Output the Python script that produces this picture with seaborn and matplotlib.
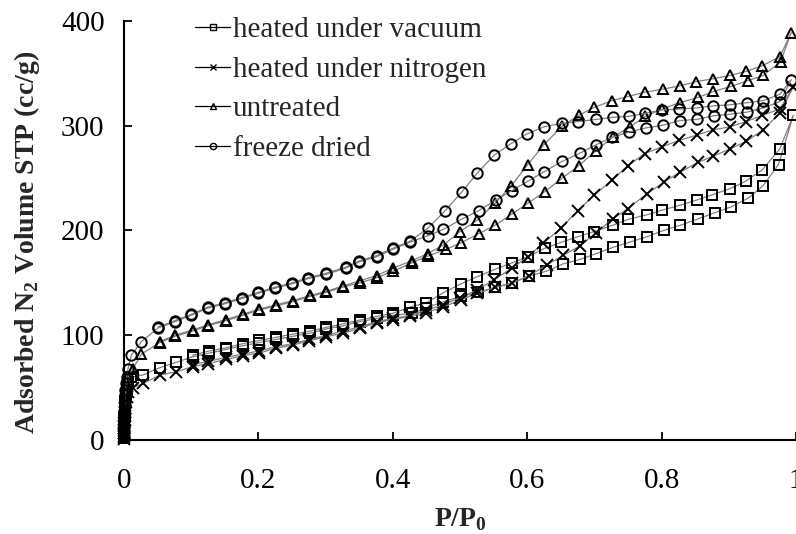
import numpy as np
import pandas as pd
import matplotlib
matplotlib.use("Agg")
import matplotlib.pyplot as plt
import seaborn as sns

# ---------------- data ----------------
labels = ["heated under vacuum", "heated under nitrogen", "untreated", "freeze dried"]
markers = ["s", "x", "^", "o"]

vac_ads_x = [0.0001,0.0002,0.0003,0.0004,0.0005,0.0007,0.0009,0.0012,0.0016,0.002,0.003,0.004,0.006,0.011,0.028,0.053,0.077,0.102,0.127,0.152,0.177,0.201,0.226,0.251,0.277,0.301,0.326,0.351,0.376,0.40,0.428,0.45,0.475,0.502,0.527,0.552,0.578,0.603,0.628,0.653,0.679,0.703,0.728,0.753,0.778,0.803,0.828,0.854,0.879,0.904,0.929,0.951,0.974,0.996]
vac_ads_y = [2,5,9,13,17,21,25,29,33,37,42,48,55,60,62,69,74,79.5,83,86.5,90,93,96,99,102,106,109,113,116,119,121,126,132,137,141,145.6,150,156.5,161,168,172.5,178,184,189,194,200,205,211,217,222.7,231,242.7,263,310]
vac_des_x = [0.976,0.95,0.925,0.902,0.875,0.852,0.827,0.801,0.778,0.75,0.727,0.70,0.675,0.65,0.626,0.601,0.577,0.552,0.526,0.501,0.475,0.45,0.426,0.40,0.376,0.351,0.326,0.301,0.277,0.251,0.226,0.201,0.177,0.152,0.127,0.102]
vac_des_y = [278,258,247,240,234,229,224,219.5,215,210.6,205,199,194,188.6,183,175,169,163,156,149,140.5,131,127,121,118,114.5,111,107.5,104,101,98,95,92,88,85,81]

nit_ads_x = [0.0001,0.0002,0.0003,0.0004,0.0005,0.0007,0.0009,0.0012,0.0016,0.002,0.003,0.004,0.006,0.013,0.029,0.053,0.077,0.102,0.125,0.152,0.177,0.201,0.226,0.251,0.276,0.301,0.326,0.351,0.376,0.40,0.426,0.45,0.475,0.502,0.525,0.552,0.578,0.603,0.629,0.654,0.678,0.703,0.727,0.75,0.778,0.803,0.827,0.854,0.877,0.902,0.926,0.951,0.976,0.996]
nit_ads_y = [1,4,7,10,13,16,19,23,27,31,36,41,46,50,54,62,65,70,73,77,80.5,83,87.5,90.6,94.8,98.6,102,106.5,112,115,118,121.7,127,134,140,145.6,150,157,167,176.5,185,198,211,221,235,246,255.6,265,271,278,285,296,312,337]
nit_des_x = [0.976,0.95,0.926,0.902,0.876,0.852,0.826,0.801,0.775,0.75,0.726,0.70,0.675,0.65,0.624,0.601,0.577,0.55,0.525,0.50,0.475,0.45,0.426,0.40,0.376,0.351,0.326,0.301,0.276,0.251,0.226,0.201,0.177,0.152,0.125,0.102]
nit_des_y = [316,310,304,299,296,291,286,280,273.5,262,248,234,219,202,188,175,164,152.6,143,136,129,124,119,116,113,108,104,100,96,92,89,85,82,79,75,72]

unt_ads_x = [0.0001,0.0002,0.0003,0.0004,0.0005,0.0007,0.0009,0.0012,0.0016,0.002,0.003,0.004,0.006,0.013,0.026,0.053,0.076,0.102,0.125,0.152,0.177,0.201,0.226,0.251,0.277,0.301,0.326,0.351,0.376,0.40,0.428,0.452,0.479,0.501,0.528,0.552,0.577,0.601,0.626,0.652,0.677,0.702,0.727,0.753,0.776,0.801,0.827,0.854,0.877,0.903,0.928,0.951,0.977,0.993]
unt_ads_y = [3,7,11,15,19,23,27,31,36,41,47,53,60,68,82,93,99,104,109,114,119,124,128,132,137,141,146,150,155,161,169,175.6,182,188,197,205,215.6,226,237,250,262,276,289,299,309,316,322,327,332.7,337.5,343,348,361,389]
unt_des_x = [0.976,0.949,0.926,0.902,0.877,0.851,0.827,0.802,0.775,0.75,0.726,0.70,0.677,0.652,0.625,0.601,0.576,0.552,0.526,0.50,0.475,0.452,0.428,0.40,0.376,0.351,0.326,0.301,0.277,0.251,0.226,0.201,0.177,0.152,0.125,0.102,0.076,0.053]
unt_des_y = [366,357,352,348,345,342,338,335,332,328,324,317.6,310,299.6,282,263,242.5,226,210,199,186,178,171,164,157,152,147,142,138,133,129,125,120,115,110,105,100,94]

frz_ads_x = [0.0001,0.0002,0.0003,0.0004,0.0005,0.0007,0.0009,0.0012,0.0016,0.002,0.003,0.004,0.006,0.011,0.026,0.051,0.076,0.10,0.125,0.15,0.175,0.2,0.225,0.25,0.274,0.30,0.33,0.35,0.376,0.40,0.426,0.452,0.475,0.503,0.528,0.553,0.577,0.601,0.625,0.652,0.679,0.703,0.726,0.752,0.777,0.802,0.827,0.852,0.878,0.902,0.927,0.951,0.976,0.993]
frz_ads_y = [3,8,13,18,23,28,33,38,43,48,54,60,68,81,94,107,113,119,126,130,135,140,145,149,154,158,164,170,175,182,189,195,201,211,219,229,238,247,256,266,274,282,289,294,298,300.5,305,306,309.6,311,313,317,323,344]
frz_des_x = [0.976,0.951,0.927,0.902,0.877,0.852,0.826,0.801,0.776,0.752,0.727,0.702,0.676,0.652,0.625,0.599,0.576,0.551,0.526,0.503,0.478,0.452,0.426,0.40,0.376,0.35,0.33,0.30,0.274,0.25,0.225,0.2,0.175,0.15,0.125,0.10,0.076,0.051]
frz_des_y = [330,324,322,320,319,317,316,315,312,309,308,306,304,302.5,299,292,283,272,255,237,219,202,190,183,176,171,165,159,155,150,146,141,136,131,127,120,114,108]

xticks = [0, 0.2, 0.4, 0.6, 0.8, 1]
xticklabels = ["0", "0.2", "0.4", "0.6", "0.8", "1"]
yticks = [0, 100, 200, 300, 400]

series = [
    (vac_ads_x + vac_des_x, vac_ads_y + vac_des_y),
    (nit_ads_x + nit_des_x, nit_ads_y + nit_des_y),
    (unt_ads_x + unt_des_x, unt_ads_y + unt_des_y),
    (frz_ads_x + frz_des_x, frz_ads_y + frz_des_y),
]

# ---------------- style ----------------
sns.set_style("ticks")
plt.rcParams["font.family"] = ["Liberation Serif", "DejaVu Serif"]
plt.rcParams["mathtext.fontset"] = "custom"
plt.rcParams["mathtext.rm"] = "Liberation Serif"
plt.rcParams["mathtext.bf"] = "Liberation Serif:bold"
plt.rcParams["xtick.direction"] = "in"
plt.rcParams["ytick.direction"] = "in"

fig = plt.figure(figsize=(7.96, 5.34), dpi=100)
ax = fig.add_axes([124/796, (534-440)/534, (796-124)/796, (440-21)/534])

for (xs, ys), lab, m in zip(series, labels, markers):
    df = pd.DataFrame({"P": xs, "V": ys})
    sns.lineplot(data=df, x="P", y="V", sort=False, estimator=None, ax=ax,
                 color="#808080", linewidth=0.9, marker=m, markersize=7.5 if m != "x" else 8,
                 markerfacecolor="none", markeredgecolor="black", markeredgewidth=1.4,
                 label=lab, clip_on=False)

ax.set_xlim(0, 1)
ax.set_ylim(0, 400)
ax.set_xticks(xticks)
ax.set_xticklabels(xticklabels)
ax.set_yticks(yticks)
ax.tick_params(axis="both", labelsize=21, length=6, width=1.3, colors="black")
ax.tick_params(axis="x", pad=20)
ax.tick_params(axis="y", pad=14)
for s in ["top", "right"]:
    ax.spines[s].set_visible(False)
for s in ["left", "bottom"]:
    ax.spines[s].set_linewidth(1.5)
    ax.spines[s].set_color("black")

ax.set_xlabel(r"P/P$_\mathbf{0}$", fontsize=20, fontweight="bold")
ax.set_ylabel(r"Adsorbed N$_\mathbf{2}$ Volume STP (cc/g)", fontsize=20, fontweight="bold")
ax.xaxis.set_label_coords((460 - 124) / 672, (440 - 520) / 419)
ax.yaxis.set_label_coords((27 - 124) / 672, (440 - 242) / 419)
ax.xaxis.label.set_va("center")
ax.yaxis.label.set_va("center")

leg = ax.legend(loc="upper left", bbox_to_anchor=(195/796, 1 - 17/534), bbox_transform=fig.transFigure,
                frameon=False, fontsize=21, handlelength=1.2, handletextpad=0.1,
                borderpad=0, borderaxespad=0, labelspacing=0.45)
for h in leg.legend_handles:
    h.set_markersize(4.5)
    h.set_markeredgewidth(1.0)
    h.set_color("black")
    h.set_linewidth(0.9)

fig.savefig("out.png", dpi=100)
